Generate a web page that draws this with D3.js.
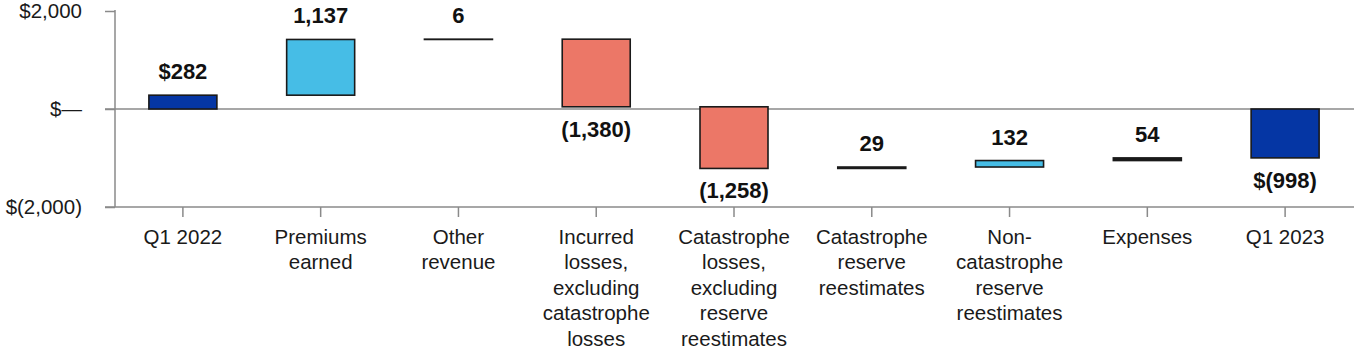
<!DOCTYPE html>
<html><head><meta charset="utf-8">
<script src="https://cdn.jsdelivr.net/npm/d3@7"></script>
<style>
html,body{margin:0;padding:0;background:#fff;}
svg{display:block;font-family:"Liberation Sans",Arial,Helvetica,sans-serif;}
</style></head><body>
<svg id="chart" width="1364" height="360"></svg>
<script>
const categories = [
  ["Q1 2022"],
  ["Premiums","earned"],
  ["Other","revenue"],
  ["Incurred","losses,","excluding","catastrophe","losses"],
  ["Catastrophe","losses,","excluding","reserve","reestimates"],
  ["Catastrophe","reserve","reestimates"],
  ["Non-","catastrophe","reserve","reestimates"],
  ["Expenses"],
  ["Q1 2023"]
];
const values = [282, 1137, 6, -1380, -1258, 29, 132, 54, -998];
const kinds = ["total","up","up","down","down","up","up","up","total"];
const valueLabels = ["$282","1,137","6","(1,380)","(1,258)","29","132","54","$(998)"];
const yTicks = [2000, 0, -2000];
const yTickLabels = ["$2,000","$\u2014","$(2,000)"];

const colorOf = {total:"#0536a4", up:"#46bde6", down:"#ec7767"};
const outline = "#1a1a1a";

const svg = d3.select("#chart");
const x = d3.scaleBand().domain(d3.range(categories.length)).range([114, 1354]).paddingInner(0).paddingOuter(0);
const y = d3.scaleLinear().domain([-2000, 2000]).range([207, 11]);
const barW = 68;

let running = 0;
const bars = values.map((v, i) => {
  let a, b;
  if (kinds[i] === "total") { a = 0; b = v; running = v; }
  else { a = running; b = running + v; running = b; }
  return {i, v, lo: Math.min(a,b), hi: Math.max(a,b)};
});

const axisColor = "#8a8a8a";

const yAxis = svg.append("g").attr("transform","translate(115,0)")
  .call(d3.axisLeft(y).tickValues(yTicks).tickSize(10).tickFormat((d,i)=>yTickLabels[i]).tickPadding(23));
yAxis.select(".domain").attr("stroke",axisColor).attr("stroke-width",1.5).attr("d","M0,10V207");
yAxis.selectAll(".tick line").attr("stroke",axisColor).attr("stroke-width",1.5);
yAxis.selectAll(".tick text").attr("fill","#1a1a1a").style("font-size","20.5px");

svg.append("line").attr("x1",105).attr("x2",1354).attr("y1",y(0)).attr("y2",y(0))
  .attr("stroke",axisColor).attr("stroke-width",1.5);

const xAxis = svg.append("g").attr("transform",`translate(0,${y(-2000)})`)
  .call(d3.axisBottom(x).tickSize(10).tickFormat(""));
xAxis.select(".domain").attr("stroke",axisColor).attr("stroke-width",1.5).attr("d","M105,0H1354");
xAxis.selectAll(".tick line").attr("stroke",axisColor).attr("stroke-width",1.5);

const lab = svg.append("g");
categories.forEach((lines, i) => {
  const t = lab.append("text").attr("text-anchor","middle").attr("fill","#1a1a1a").style("font-size","20.5px");
  lines.forEach((ln, j) => {
    t.append("tspan").attr("x", x(i) + x.bandwidth()/2).attr("y", 243.5 + j*25.5).text(ln);
  });
});

svg.append("g").selectAll("rect").data(bars).join("rect")
  .attr("x", d => x(d.i) + x.bandwidth()/2 - barW/2)
  .attr("width", barW)
  .attr("y", d => y(d.hi))
  .attr("height", d => Math.max(0.3, y(d.lo) - y(d.hi)))
  .attr("fill", d => (y(d.lo) - y(d.hi)) < 3 ? outline : colorOf[kinds[d.i]])
  .attr("stroke", outline)
  .attr("stroke-width", 1.6);

svg.append("g").selectAll("text").data(bars).join("text")
  .attr("x", d => x(d.i) + x.bandwidth()/2)
  .attr("y", d => d.v >= 0 ? y(d.hi) - 16 : y(d.lo) + 30)
  .attr("text-anchor","middle")
  .attr("fill","#111")
  .style("font-size","22px").style("font-weight","bold")
  .text((d,i) => valueLabels[i]);
</script>
</body></html>
